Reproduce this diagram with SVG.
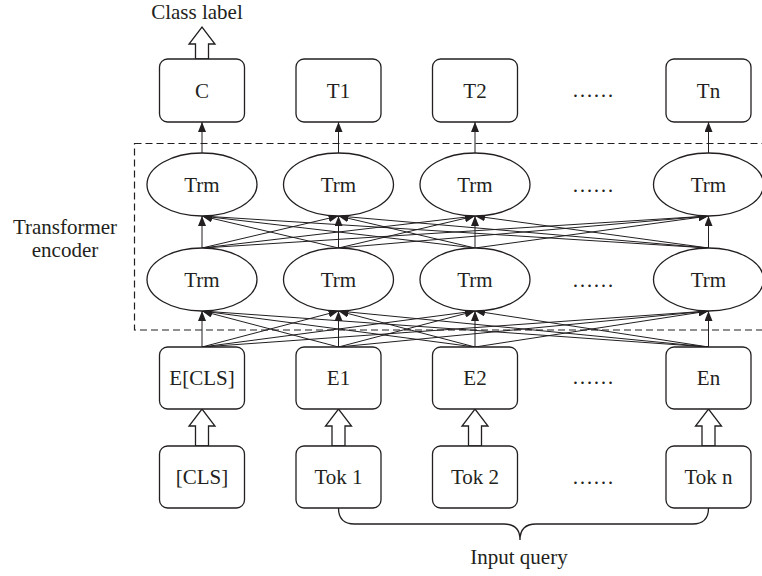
<svg xmlns="http://www.w3.org/2000/svg" width="762" height="576" viewBox="0 0 762 576">
<defs>
<marker id="ah" viewBox="0 0 10 8" refX="10" refY="4" markerWidth="10" markerHeight="8" markerUnits="userSpaceOnUse" orient="auto">
<path d="M0,0 L10,4 L0,8 z" fill="#231f20"/>
</marker>
<style>
.box{fill:#fff;stroke:#231f20;stroke-width:1.3}
.ell{fill:#fff;stroke:#231f20;stroke-width:1.3}
.t{font-family:"Liberation Serif","Times New Roman",serif;font-size:21px;fill:#231f20;text-anchor:middle}
.c{stroke:#231f20;stroke-width:1;fill:none;marker-end:url(#ah)}
.hol{fill:#fff;stroke:#231f20;stroke-width:1.3;stroke-linejoin:miter}
.dash{fill:none;stroke:#231f20;stroke-width:1.2;stroke-dasharray:7 4}
</style>
</defs>
<rect fill="#fff" width="762" height="576"/>
<rect class="dash" x="134.5" y="143.5" width="650" height="186.5"/>
<text class="t" x="197" y="19">Class label</text>
<text class="t" x="65" y="234">Transformer</text>
<text class="t" x="65" y="257">encoder</text>
<text class="t" x="519" y="564">Input query</text>
<g id="connectors">
<path class="c" d="M202,153 L202,122"/>
<path class="c" d="M338.5,153 L338.5,122"/>
<path class="c" d="M475,153 L475,122"/>
<path class="c" d="M708.5,153 L708.5,122"/>
<path class="c" d="M202,248 L202,216"/>
<path class="c" d="M202,248 L338.5,216"/>
<path class="c" d="M202,248 L475,216"/>
<path class="c" d="M202,248 L708.5,216"/>
<path class="c" d="M338.5,248 L202,216"/>
<path class="c" d="M338.5,248 L338.5,216"/>
<path class="c" d="M338.5,248 L475,216"/>
<path class="c" d="M338.5,248 L708.5,216"/>
<path class="c" d="M475,248 L202,216"/>
<path class="c" d="M475,248 L338.5,216"/>
<path class="c" d="M475,248 L475,216"/>
<path class="c" d="M475,248 L708.5,216"/>
<path class="c" d="M708.5,248 L202,216"/>
<path class="c" d="M708.5,248 L338.5,216"/>
<path class="c" d="M708.5,248 L475,216"/>
<path class="c" d="M708.5,248 L708.5,216"/>
<path class="c" d="M202,347 L202,311"/>
<path class="c" d="M202,347 L338.5,311"/>
<path class="c" d="M202,347 L475,311"/>
<path class="c" d="M202,347 L708.5,311"/>
<path class="c" d="M338.5,347 L202,311"/>
<path class="c" d="M338.5,347 L338.5,311"/>
<path class="c" d="M338.5,347 L475,311"/>
<path class="c" d="M338.5,347 L708.5,311"/>
<path class="c" d="M475,347 L202,311"/>
<path class="c" d="M475,347 L338.5,311"/>
<path class="c" d="M475,347 L475,311"/>
<path class="c" d="M475,347 L708.5,311"/>
<path class="c" d="M708.5,347 L202,311"/>
<path class="c" d="M708.5,347 L338.5,311"/>
<path class="c" d="M708.5,347 L475,311"/>
<path class="c" d="M708.5,347 L708.5,311"/>
<polygon class="hol" points="195.5,59 195.5,44 189,44 202,27 215,44 208.5,44 208.5,59"/>
<polygon class="hol" points="195.5,446 195.5,426 189,426 202,409 215,426 208.5,426 208.5,446"/>
<polygon class="hol" points="332,446 332,426 325.5,426 338.5,409 351.5,426 345,426 345,446"/>
<polygon class="hol" points="468.5,446 468.5,426 462,426 475,409 488,426 481.5,426 481.5,446"/>
<polygon class="hol" points="702,446 702,426 695.5,426 708.5,409 721.5,426 715,426 715,446"/>
<path d="M338.5,508 Q338.5,524 354.5,524 L504,524 Q520,524 520,540 Q520,524 536,524 L692.5,524 Q708.5,524 708.5,508" fill="none" stroke="#231f20" stroke-width="1.3"/>
</g>
<g id="out-C"><rect class="box" x="159.5" y="59" width="85" height="63" rx="8"/><text class="t" x="202" y="97.5">C</text></g>
<g id="out-T1"><rect class="box" x="296" y="59" width="85" height="63" rx="8"/><text class="t" x="338.5" y="97.5">T1</text></g>
<g id="out-T2"><rect class="box" x="432.5" y="59" width="85" height="63" rx="8"/><text class="t" x="475" y="97.5">T2</text></g>
<g id="out-dots"><text class="t" x="593" y="97">……</text></g>
<g id="out-Tn"><rect class="box" x="666" y="59" width="85" height="63" rx="8"/><text class="t" x="708.5" y="97.5">Tn</text></g>
<g id="trm2-1"><ellipse class="ell" cx="202" cy="184.5" rx="55" ry="31.5"/><text class="t" x="202" y="192">Trm</text></g>
<g id="trm2-2"><ellipse class="ell" cx="338.5" cy="184.5" rx="55" ry="31.5"/><text class="t" x="338.5" y="192">Trm</text></g>
<g id="trm2-3"><ellipse class="ell" cx="475" cy="184.5" rx="55" ry="31.5"/><text class="t" x="475" y="192">Trm</text></g>
<g id="trm2-dots"><text class="t" x="593" y="192">……</text></g>
<g id="trm2-n"><ellipse class="ell" cx="708.5" cy="184.5" rx="55" ry="31.5"/><text class="t" x="708.5" y="192">Trm</text></g>
<g id="trm1-1"><ellipse class="ell" cx="202" cy="279.5" rx="55" ry="31.5"/><text class="t" x="202" y="287">Trm</text></g>
<g id="trm1-2"><ellipse class="ell" cx="338.5" cy="279.5" rx="55" ry="31.5"/><text class="t" x="338.5" y="287">Trm</text></g>
<g id="trm1-3"><ellipse class="ell" cx="475" cy="279.5" rx="55" ry="31.5"/><text class="t" x="475" y="287">Trm</text></g>
<g id="trm1-dots"><text class="t" x="593" y="287">……</text></g>
<g id="trm1-n"><ellipse class="ell" cx="708.5" cy="279.5" rx="55" ry="31.5"/><text class="t" x="708.5" y="287">Trm</text></g>
<g id="emb-cls"><rect class="box" x="159.5" y="347" width="85" height="62" rx="8"/><text class="t" x="202" y="385">E[CLS]</text></g>
<g id="emb-1"><rect class="box" x="296" y="347" width="85" height="62" rx="8"/><text class="t" x="338.5" y="385">E1</text></g>
<g id="emb-2"><rect class="box" x="432.5" y="347" width="85" height="62" rx="8"/><text class="t" x="475" y="385">E2</text></g>
<g id="emb-dots"><text class="t" x="593" y="384">……</text></g>
<g id="emb-n"><rect class="box" x="666" y="347" width="85" height="62" rx="8"/><text class="t" x="708.5" y="385">En</text></g>
<g id="tok-cls"><rect class="box" x="159.5" y="446" width="85" height="62" rx="8"/><text class="t" x="202" y="484">[CLS]</text></g>
<g id="tok-1"><rect class="box" x="296" y="446" width="85" height="62" rx="8"/><text class="t" x="338.5" y="484">Tok 1</text></g>
<g id="tok-2"><rect class="box" x="432.5" y="446" width="85" height="62" rx="8"/><text class="t" x="475" y="484">Tok 2</text></g>
<g id="tok-dots"><text class="t" x="593" y="484">……</text></g>
<g id="tok-n"><rect class="box" x="666" y="446" width="85" height="62" rx="8"/><text class="t" x="708.5" y="484">Tok n</text></g>
</svg>
